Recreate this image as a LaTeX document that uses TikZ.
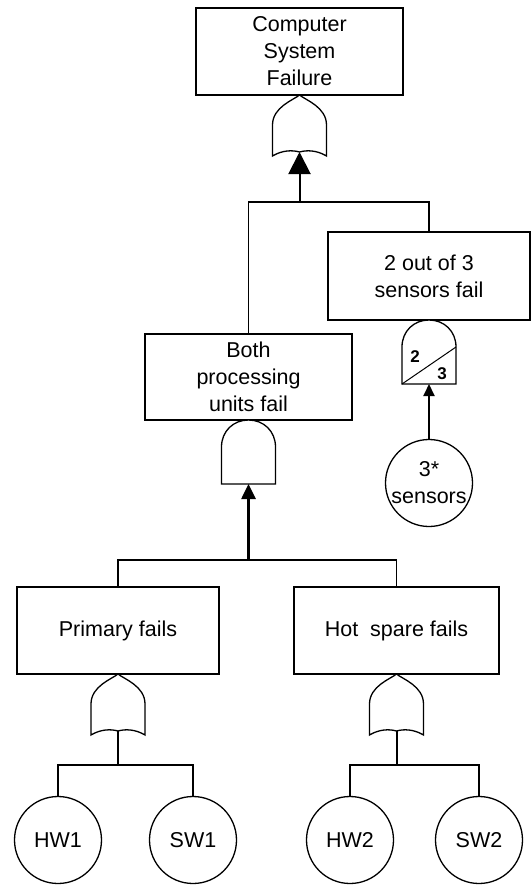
\documentclass[tikz,border=0pt]{standalone}
\usepackage{fontspec}
\setmainfont{Liberation Sans}
\usetikzlibrary{arrows.meta}
\tikzset{
  orgate/.pic={
    \path[gateline] (0,0) .. controls (6,5) and (27,12) .. (27,30) -- (27,61)
      .. controls (17,55) and (7,55) .. (0,57)
      .. controls (-7,55) and (-17,55) .. (-27,61) -- (-27,30)
      .. controls (-27,12) and (-6,5) .. (0,0) -- cycle;
    \coordinate (-in) at (0,57);
    \coordinate (-out) at (0,0);
  },
  andgate/.pic={
    \path[gateline] (-27,64) -- (-27,27) .. controls (-27,11) and (-15,0) .. (0,0)
      .. controls (15,0) and (27,11) .. (27,27) -- (27,64) -- cycle;
    \coordinate (-in) at (0,64);
    \coordinate (-out) at (0,0);
  },
  votegate/.pic={
    \path[gateline] (-27,64) -- (-27,27) .. controls (-27,11) and (-15,0) .. (0,0)
      .. controls (15,0) and (27,11) .. (27,27) -- (27,64) -- cycle;
    \draw[line width=1pt] (-27,64) -- (27,27);
    \node[votenum] (-two) at (-14,37) {2};
    \node[votenum] (-three) at (13,54) {3};
    \coordinate (-in) at (0,64);
    \coordinate (-out) at (0,0);
  },
}
\begin{document}
\begin{tikzpicture}[x=1pt,y=-1pt,
  lab/.style={font=\fontsize{21.5}{27}\selectfont, align=center},
  evbox/.style={draw, line width=1.3pt, rectangle, lab, inner sep=0pt},
  basic/.style={draw, line width=1.3pt, circle, lab, inner sep=0pt, minimum size=87pt},
  gateline/.style={draw, line width=1.3pt, fill=white},
  votenum/.style={font=\bfseries\fontsize{17}{17}\selectfont, inner sep=0pt},
  conn/.style={line width=1.4pt},
  shaft/.style={line width=2pt},
]
\useasboundingbox (0,0) rectangle (531,892);

% event boxes
\node[evbox, minimum width=207pt, minimum height=87pt] (top) at (299.5,51.5) {Computer\\System\\Failure};
\node[evbox, minimum width=202pt, minimum height=88pt] (sens) at (429,276) {2 out of 3\\sensors fail};
\node[evbox, minimum width=207pt, minimum height=86pt] (both) at (248.5,377) {Both\\processing\\units fail};
\node[evbox, minimum width=202pt, minimum height=87pt] (prim) at (118,630.5) {Primary fails};
\node[evbox, minimum width=205pt, minimum height=87pt] (hot) at (396.5,630.5) {Hot\ \ spare fails};

% basic events
\node[basic] (sensors) at (429,483) {3*\\sensors};
\node[basic] (hw1) at (58,840) {HW1};
\node[basic] (sw1) at (193,840) {SW1};
\node[basic] (hw2) at (350,840) {HW2};
\node[basic] (sw2) at (479,840) {SW2};

% gates
\pic (g1) at (299.5,95) {orgate};
\pic (g2) at (248.5,420) {andgate};
\pic (g3) at (429,320) {votegate};
\pic (g4) at (118,674) {orgate};
\pic (g5) at (396.5,674) {orgate};

% junctions
\coordinate (j1) at (299.5,202);
\coordinate (j2) at (248.5,560);
\coordinate (j3) at (118,765);
\coordinate (j4) at (396.5,765);

% connectors
\draw[conn] (both.north) |- (j1) -| (sens.north);
\draw[shaft, -{Triangle[length=22pt,width=22pt]}] (j1) -- (g1-in);

\draw[conn] (prim.north) |- (j2) -| (hot.north);
\draw[shaft, line width=2.6pt, -{Triangle[length=15pt,width=14pt]}] (j2) -- (g2-in);

\draw[shaft, -{Triangle[length=12pt,width=11pt]}] (sensors.north) -- (g3-in);

\draw[conn] (hw1.north) |- (j3) -| (sw1.north);
\draw[shaft] (j3) -- (g4-in);
\draw[conn] (hw2.north) |- (j4) -| (sw2.north);
\draw[shaft] (j4) -- (g5-in);
\end{tikzpicture}
\end{document}
